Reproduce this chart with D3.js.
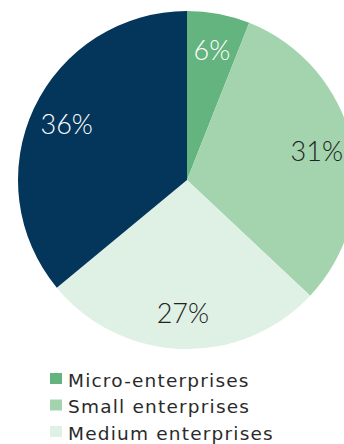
<!DOCTYPE html>
<html>
<head>
<meta charset="utf-8">
<script src="https://cdn.jsdelivr.net/npm/d3@7"></script>
<style>
  html, body { margin: 0; padding: 0; background: #fff; overflow: hidden; }
  svg { display: block; }
  .pct { font-family: "Lato", "Open Sans", sans-serif; font-weight: 300; }
  .legend-label { font-family: "DejaVu Sans", sans-serif; font-weight: 400; }
</style>
</head>
<body>
<svg id="chart" width="344" height="444"></svg>
<script>
// Share of enterprises by size class
const categories = ["Micro-enterprises", "Small enterprises", "Medium enterprises", "Large enterprises"];
const shares = [6, 31, 27, 36];
const colors = ["#63b47e", "#a3d4ae", "#dff0e4", "#04365c"];
const labelColors = ["#ffffff", "#222222", "#222222", "#ffffff"];

const svg = d3.select("#chart");
const cx = 187, cy = 180, radius = 169;

const pie = d3.pie().sort(null).value(d => d.value);
const data = categories.map((c, i) => ({ name: c, value: shares[i], i }));
const arcs = pie(data);

const arc = d3.arc().innerRadius(0).outerRadius(radius);
const labelArc = d3.arc().innerRadius(133).outerRadius(133);

const g = svg.append("g").attr("transform", `translate(${cx},${cy})`);

g.selectAll("path.slice")
  .data(arcs)
  .join("path")
  .attr("class", "slice")
  .attr("d", arc)
  .attr("fill", d => colors[d.data.i]);

g.selectAll("text.pct")
  .data(arcs)
  .join("text")
  .attr("class", "pct")
  .attr("transform", d => `translate(${labelArc.centroid(d)})`)
  .attr("text-anchor", "middle")
  .attr("dominant-baseline", "central")
  .attr("font-size", 27)
  .attr("fill", d => labelColors[d.data.i])
  .text(d => d.data.value + "%");

// Legend (the last row falls below the visible area)
const legend = svg.append("g").attr("transform", "translate(50,373)");
const rowH = 26.5;
const items = legend.selectAll("g.item")
  .data(data.slice(0, 3))
  .join("g")
  .attr("class", "item")
  .attr("transform", (d, i) => `translate(0,${i * rowH})`);

items.append("rect")
  .attr("width", 12)
  .attr("height", 11)
  .attr("fill", d => colors[d.i]);

items.append("text")
  .attr("class", "legend-label")
  .attr("x", 18)
  .attr("y", 13.5)
  .attr("font-size", 18.5)
  .attr("letter-spacing", 1.2)
  .attr("fill", "#2a2a2a")
  .text(d => d.name);
</script>
</body>
</html>
